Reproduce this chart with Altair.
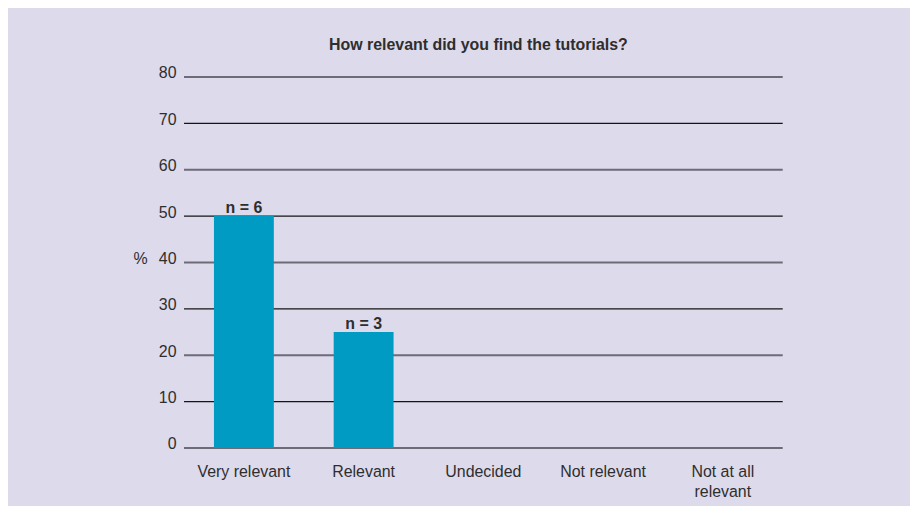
import altair as alt
import pandas as pd

categories = ["Very relevant", "Relevant", "Undecided", "Not relevant", "Not at all relevant"]
percent = [50, 25, 0, 0, 0]
counts = [6, 3, 0, 0, 0]
tick_values = [0, 10, 20, 30, 40, 50, 60, 70, 80]

BG = "#dddaeb"
BAR = "#009bc3"
TXT = "#2e2e2e"
FONT = "Liberation Sans"

df = pd.DataFrame({
    "category": categories,
    "percent": percent,
    "n": counts,
    "label": [f"n = {c}" for c in counts],
})
grid = pd.DataFrame({
    "value": tick_values,
    "major": [v % 20 == 0 for v in tick_values],
})

x_enc = alt.X(
    "category:N",
    sort=categories,
    scale=alt.Scale(paddingInner=0.5, paddingOuter=0.25),
    axis=alt.Axis(
        title=None, labelAngle=0, domain=False, ticks=False, grid=False,
        labelFontSize=16, labelColor=TXT, labelFont=FONT,
        labelBaseline="alphabetic", labelPadding=29, labelLineHeight=20,
        labelExpr="datum.label == 'Not at all relevant' ? ['Not at all', 'relevant'] : datum.label",
    ),
)
y_scale = alt.Scale(domain=[0, 80], nice=False)
y_axis = alt.Axis(
    values=tick_values, domain=False, ticks=False, grid=False,
    labelFontSize=16, labelColor=TXT, labelFont=FONT, labelPadding=8,
    labelBaseline="alphabetic", labelOffset=1,
    title="%", titleAngle=0, titleAlign="right", titleBaseline="alphabetic",
    titleX=-37, titleY=187.5, titleFontSize=16, titleFontWeight="normal",
    titleColor=TXT, titleFont=FONT,
)

rules = alt.Chart(grid).mark_rule().encode(
    y=alt.Y("value:Q", scale=y_scale, axis=y_axis),
    color=alt.condition("datum.major", alt.value("#6e6a78"), alt.value("#151515")),
    strokeWidth=alt.condition("datum.major", alt.value(2), alt.value(1.2)),
)

bars = alt.Chart(df).mark_bar(color=BAR).encode(
    x=x_enc,
    y=alt.Y("percent:Q", scale=y_scale),
)

texts = alt.Chart(df).transform_filter("datum.n > 0").mark_text(
    fontWeight="bold", fontSize=16, font=FONT, color=TXT,
    baseline="alphabetic", dy=-3,
).encode(
    x=alt.X("category:N", sort=categories),
    y=alt.Y("percent:Q", scale=y_scale),
    text="label:N",
)

chart = alt.layer(rules, bars, texts).properties(
    width=602, height=373,
    padding={"left": 177, "top": 68, "right": 128, "bottom": 57},
    autosize=alt.AutoSizeParams(type="none"),
    background=BG,
    title=alt.TitleParams(
        "How relevant did you find the tutorials?",
        fontSize=16, fontWeight="bold", font=FONT, color=TXT,
        anchor="middle", frame="group", baseline="alphabetic", offset=14,
        dx=-5, dy=15,
    ),
).configure_view(stroke=None)

chart.save("out.html", embed_options={"renderer": "svg", "actions": False})
